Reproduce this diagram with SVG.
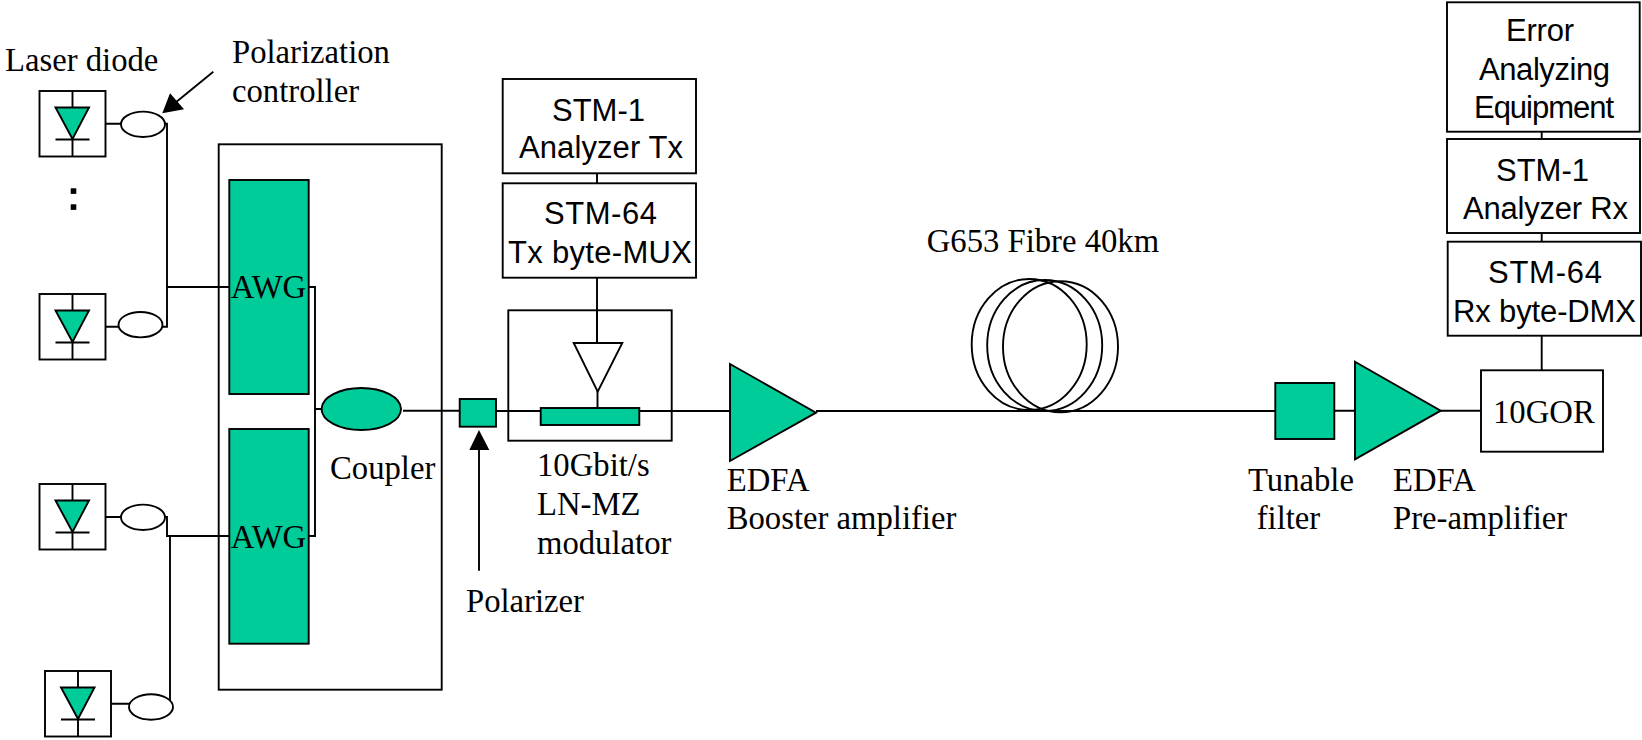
<svg xmlns="http://www.w3.org/2000/svg" width="1642" height="740" viewBox="0 0 1642 740">
<style>
.s{fill:none;stroke:#000;stroke-width:1.9}
.b{fill:#fff;stroke:#000;stroke-width:1.9}
.g{fill:#00cc99;stroke:#000;stroke-width:1.9}
.t{font-family:"Liberation Serif","Times New Roman",serif;font-size:32.7px;fill:#000}
.h{font-family:"Liberation Sans",Arial,sans-serif;font-size:31px;fill:#000}
</style>
<defs>
<g id="diode">
<rect class="b" x="0" y="0" width="66" height="65.5"/>
<path class="s" d="M33 0V65.5M16 48.5H50"/>
<path class="g" d="M16 16.5H49.5L33 48Z"/>
</g>
</defs>
<rect x="0" y="0" width="1642" height="740" fill="#fff"/>
<g id="connectors">
<path class="s" d="M105 123.7H121M165 123.7H167V326.7H163M105 326.7H119M167 287H229M309 287H315V536H309M315 409H322M105 517H121M165 517H167V536H229M170 536V706.7H173M110 703.7H129"/>
<path class="s" d="M403 410.7H460M496 411H541M639 411H730M816 411H1275.5M1334 410.7H1355M1440 410.7H1481"/>
<path class="s" d="M597 173V183.5M597 277.5V343M597.5 391V408M1541.7 131.5V139M1541.7 233V242M1541.7 335.5V370.5"/>
<path class="s" d="M213.3 71.7L175 103"/>
<path d="M162.3 113.3L170 93.3L184 109.3Z"/>
<path class="s" d="M479 445V570.7"/>
<path d="M479 430L489.3 450H469.3Z"/>
</g>
<g id="laser1"><use href="#diode" x="39.5" y="91"/></g>
<g id="laser2"><use href="#diode" x="39.5" y="294"/></g>
<g id="laser3"><use href="#diode" x="39.5" y="484"/></g>
<g id="laser4"><use href="#diode" x="45" y="671"/></g>
<g id="pc1"><ellipse class="b" cx="143" cy="124.3" rx="22" ry="12.7"/></g>
<g id="pc2"><ellipse class="b" cx="140.5" cy="324.7" rx="22" ry="12.7"/></g>
<g id="pc3"><ellipse class="b" cx="143" cy="517.3" rx="22" ry="12.7"/></g>
<g id="pc4"><ellipse class="b" cx="151" cy="707" rx="22" ry="12.7"/></g>
<g id="dots"><rect x="70.7" y="188.3" width="5.6" height="5.6"/><rect x="70.7" y="204.3" width="5.6" height="5.6"/></g>
<g id="awg-box"><rect class="s" x="218.7" y="144.3" width="223" height="545.4"/></g>
<g id="awg1"><rect class="g" x="229.3" y="180" width="79.4" height="214"/><text class="t" x="230.7" y="298">AWG</text></g>
<g id="awg2"><rect class="g" x="229.3" y="429" width="79.4" height="214.7"/><text class="t" x="230.7" y="547.7">AWG</text></g>
<g id="coupler"><ellipse class="g" cx="361.3" cy="409" rx="39.7" ry="21"/><text class="t" x="330" y="479">Coupler</text></g>
<g id="polarizer"><rect class="g" x="459.7" y="399" width="36.3" height="27.7"/><text class="t" x="466" y="612.3">Polarizer</text></g>
<g id="modulator"><rect class="s" x="508.3" y="310.3" width="163.4" height="130.4"/>
<path class="b" d="M573.7 343H622.3L597.7 391.7Z"/><path class="s" d="M597 310.3V343"/>
<rect class="g" x="540.7" y="408" width="98.6" height="17"/>
<text class="t" x="537" y="475.7">10Gbit/s</text><text class="t" x="537" y="515">LN-MZ</text><text class="t" x="537" y="554">modulator</text></g>
<g id="stm1tx"><rect class="b" x="502.7" y="79" width="193.3" height="94.3"/>
<text class="h"><tspan x="552" y="120.7" textLength="93">STM-1</tspan><tspan x="519" y="158.3" textLength="164">Analyzer Tx</tspan></text></g>
<g id="stm64tx"><rect class="b" x="502.7" y="183.3" width="193.3" height="94.4"/>
<text class="h"><tspan x="544" y="224.3" textLength="113">STM-64</tspan><tspan x="508" y="263.3" textLength="184">Tx byte-MUX</tspan></text></g>
<g id="edfa1"><path class="g" d="M730 364L816 412.7L730 461Z"/><text class="t" x="726.7" y="490.7">EDFA</text><text class="t" x="726.7" y="529.3">Booster amplifier</text></g>
<g id="fibre"><ellipse class="s" cx="1029.2" cy="344.5" rx="57.5" ry="65.5"/><ellipse class="s" cx="1044.7" cy="345.5" rx="57.5" ry="65.5"/><ellipse class="s" cx="1060.5" cy="346.7" rx="57.5" ry="65.5"/><text class="t" x="926.7" y="251.7">G653 Fibre 40km</text></g>
<g id="filter"><rect class="g" x="1275.3" y="383" width="59" height="56"/><text class="t" x="1248" y="490.7">Tunable</text><text class="t" x="1256.7" y="529.3">filter</text></g>
<g id="edfa2"><path class="g" d="M1355 361.7L1440.7 410.7L1355 459.3Z"/><text class="t" x="1393" y="490.7">EDFA</text><text class="t" x="1393" y="529.3">Pre-amplifier</text></g>
<g id="gor"><rect class="b" x="1481" y="370.3" width="122" height="81.4"/><text class="t" x="1493" y="422.7">10GOR</text></g>
<g id="stm64rx"><rect class="b" x="1447.7" y="241.7" width="193.3" height="94"/>
<text class="h"><tspan x="1488" y="283" textLength="114">STM-64</tspan><tspan x="1453" y="322" textLength="183">Rx byte-DMX</tspan></text></g>
<g id="stm1rx"><rect class="b" x="1447" y="139" width="193" height="94"/>
<text class="h"><tspan x="1496" y="181" textLength="93">STM-1</tspan><tspan x="1463" y="219" textLength="165">Analyzer Rx</tspan></text></g>
<g id="error"><rect class="b" x="1447" y="2.3" width="192.7" height="129.4"/>
<text class="h"><tspan x="1506" y="41" textLength="68">Error</tspan><tspan x="1479" y="79.5" textLength="131">Analyzing</tspan><tspan x="1474" y="118" textLength="140">Equipment</tspan></text></g>
<g id="labels"><text class="t" x="5" y="70.7">Laser diode</text><text class="t" x="232" y="62.7">Polarization</text><text class="t" x="232" y="101.7">controller</text></g>
</svg>
